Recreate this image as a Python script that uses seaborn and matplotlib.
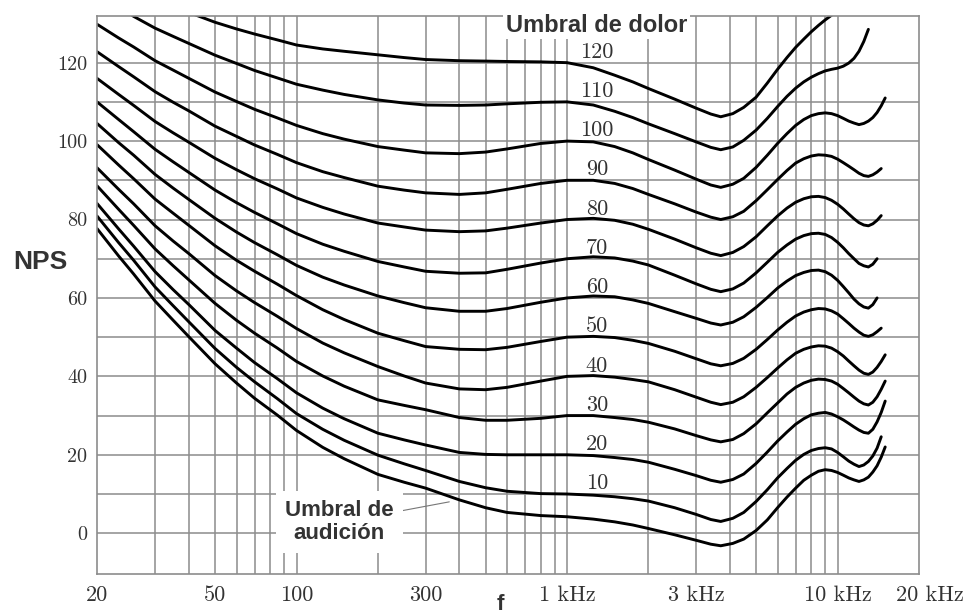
import numpy as np
import pandas as pd
import matplotlib
matplotlib.use("Agg")
import matplotlib.pyplot as plt
import seaborn as sns
from matplotlib.ticker import FixedLocator, FixedFormatter, NullFormatter
from matplotlib.transforms import ScaledTranslation

n = np.nan

# Frequencies (Hz) at which every equal-loudness contour is sampled
FREQ_HZ = [18.3, 22, 25, 30, 35, 40, 50, 60, 70, 85, 100, 125, 150, 200, 250, 300,
           400, 500, 600, 800, 1000, 1250, 1500, 1750, 2000,
           2500, 3000, 3400, 3700, 4100, 4500, 5000, 5500, 6000, 6500, 7000, 7500,
           8000, 8500, 9000, 9500, 10000, 10500, 11000, 11500, 12000, 12500, 13000,
           13500, 14000, 14500, 15000]

# Sound pressure level (dB) of each contour at FREQ_HZ
UMBRAL = [77.7, 70.7, 66.1, 59.2, 54.3, 50.1, 43.2, 38.3, 34.4, 30.1, 26.2, 21.9, 19.0, 15.0, 13.0, 11.5,
          8.5, 6.5, 5.3, 4.5, 4.2, 3.6, 2.9, 2.1, 1.2,
          -0.4, -1.8, -2.8, -3.2, -2.6, -1.5, 0.7, 3.4, 6.5, 9.2, 11.5, 13.5, 14.8, 15.8, 16.2,
          16.0, 15.5, 14.8, 14.1, 13.6, 13.2, 13.6, 14.3, 15.6, 17.2, 19.4, 22.0]
P10 = [80.9, 74.1, 69.6, 62.8, 58.0, 53.9, 47.1, 42.3, 38.6, 34.3, 30.5, 26.5, 23.7, 19.9, 17.7, 16.0,
       13.2, 11.6, 10.7, 10.1, 10.0, 9.7, 9.3, 8.8, 8.2,
       6.5, 4.8, 3.5, 3.0, 3.8, 5.3, 8.1, 11.1, 14.1, 16.5, 18.6, 20.1, 21.1, 21.6, 21.8,
       21.5, 20.6, 19.5, 18.4, 17.6, 17.0, 17.4, 18.3, 19.7, 21.7, 24.6, n]
P20 = [84.1, 77.6, 73.2, 66.7, 62.1, 58.3, 51.7, 47.2, 43.5, 39.4, 35.8, 31.9, 29.2, 25.5, 23.8, 22.5,
       20.6, 20.1, 20.0, 20.0, 20.0, 19.8, 19.3, 18.8, 18.1,
       16.3, 14.7, 13.5, 13.0, 13.7, 15.1, 17.8, 20.7, 23.5, 25.8, 27.8, 29.2, 30.2, 30.6, 30.8,
       30.4, 29.7, 28.9, 28.0, 27.1, 26.3, 25.7, 25.5, 26.5, 28.4, 30.8, 33.7]
P30 = [88.6, 82.6, 78.5, 72.5, 68.2, 64.6, 58.6, 54.3, 51.0, 47.2, 43.8, 40.1, 37.5, 34.0, 32.6, 31.5,
       29.5, 28.8, 28.8, 29.3, 30.0, 30.0, 29.5, 29.0, 28.3,
       26.6, 24.9, 23.8, 23.3, 23.9, 25.4, 27.9, 30.7, 33.2, 35.5, 37.2, 38.3, 39.0, 39.3, 39.2,
       38.8, 38.0, 36.9, 35.8, 34.7, 33.7, 33.0, 32.7, 33.4, 34.8, 36.7, 38.8]
P40 = [93.2, 87.7, 84.0, 78.4, 74.5, 71.3, 65.7, 61.8, 58.8, 55.3, 52.2, 48.5, 46.0, 42.5, 40.1, 38.3,
       36.8, 36.6, 37.2, 38.8, 40.0, 40.2, 39.8, 39.2, 38.6,
       36.6, 34.7, 33.4, 32.8, 33.4, 34.8, 37.2, 39.7, 42.1, 44.2, 45.9, 46.9, 47.5, 47.8, 47.7,
       47.2, 46.3, 45.2, 43.9, 42.7, 41.6, 40.8, 40.5, 41.1, 42.3, 43.8, 45.5]
P50 = [99.1, 93.9, 90.4, 85.2, 81.6, 78.5, 73.3, 69.6, 66.8, 63.5, 60.6, 57.0, 54.5, 51.0, 49.1, 47.6,
       46.9, 46.8, 47.4, 48.9, 50.0, 50.2, 49.9, 49.2, 48.4,
       46.4, 44.5, 43.2, 42.7, 43.3, 44.6, 46.9, 49.4, 51.8, 53.8, 55.4, 56.4, 57.0, 57.3, 57.2,
       56.7, 55.9, 54.7, 53.5, 52.3, 51.3, 50.5, 50.2, 50.6, 51.4, 52.3, n]
P60 = [104.5, 99.6, 96.4, 91.5, 88.0, 85.1, 80.3, 76.8, 74.1, 71.0, 68.3, 65.3, 63.3, 60.5, 58.8, 57.5,
       56.6, 56.6, 57.3, 58.9, 60.0, 60.5, 60.3, 59.5, 58.6,
       56.5, 54.8, 53.6, 53.1, 53.8, 55.2, 57.6, 60.1, 62.5, 64.3, 65.7, 66.5, 67.0, 67.1, 66.7,
       65.8, 64.5, 62.9, 61.3, 59.7, 58.5, 57.7, 57.4, 58.3, 60.0, n, n]
P70 = [110.0, 105.5, 102.4, 97.9, 94.7, 92.0, 87.5, 84.3, 81.8, 78.9, 76.4, 73.7, 71.9, 69.3, 67.9, 66.8,
       66.3, 66.4, 67.3, 68.9, 70.0, 70.5, 70.2, 69.4, 68.4,
       65.8, 63.6, 62.2, 61.6, 62.3, 63.8, 66.4, 69.1, 71.6, 73.5, 75.0, 75.9, 76.4, 76.5, 76.2,
       75.4, 74.2, 72.8, 71.3, 70.0, 68.8, 68.2, 67.9, 68.6, 70.0, n, n]
P80 = [116.0, 111.9, 109.1, 105.0, 102.1, 99.7, 95.6, 92.7, 90.4, 87.8, 85.5, 83.1, 81.4, 79.1, 78.1, 77.3,
       76.9, 77.1, 77.8, 79.1, 80.0, 80.3, 79.8, 78.8, 77.5,
       75.0, 72.8, 71.4, 70.8, 71.6, 73.1, 75.6, 78.4, 80.9, 82.9, 84.4, 85.3, 85.8, 85.9, 85.6,
       84.9, 83.9, 82.7, 81.4, 80.2, 79.2, 78.6, 78.4, 78.9, 79.8, 81.0, n]
P90 = [122.8, 119.0, 116.4, 112.6, 109.9, 107.7, 103.8, 101.2, 99.0, 96.6, 94.5, 92.2, 90.7, 88.5, 87.5, 86.8,
       86.4, 86.8, 87.7, 89.2, 90.0, 90.0, 89.2, 87.9, 86.4,
       84.0, 81.9, 80.6, 80.0, 80.7, 82.1, 84.8, 87.6, 90.2, 92.5, 94.4, 95.5, 96.2, 96.5, 96.4,
       96.1, 95.4, 94.5, 93.6, 92.7, 91.8, 91.2, 91.0, 91.4, 92.1, 93.0, n]
P100 = [129.8, 126.3, 124.0, 120.5, 118.1, 116.0, 112.5, 110.1, 108.1, 105.9, 104.0, 101.9, 100.5, 98.6, 97.7, 97.0,
        96.8, 97.2, 98.0, 99.4, 100.0, 99.8, 98.6, 97.0, 95.3,
        92.6, 90.3, 88.8, 88.2, 89.0, 90.5, 93.3, 96.4, 99.4, 101.9, 104.0, 105.5, 106.5, 107.0, 107.2,
        107.0, 106.5, 105.8, 105.1, 104.6, 104.2, 104.5, 105.1, 106.0, 107.3, 109.0, 111.0]
P110 = [n, 134.5, 131.8, 128.8, 126.7, 124.9, 121.9, 119.8, 118.0, 116.1, 114.5, 113.0, 111.9, 110.5, 109.7, 109.2,
        109.1, 109.2, 109.5, 109.9, 110.0, 109.2, 107.6, 106.0, 104.4,
        101.9, 99.8, 98.4, 97.8, 98.5, 100.2, 102.8, 105.8, 108.8, 111.4, 113.5, 115.1, 116.3, 117.2, 117.9,
        118.3, 118.6, 119.1, 119.9, 121.1, 122.9, 125.4, 128.5, n, n, n, n]
P120 = [n, n, n, n, n, 132.8, 130.3, 128.6, 127.3, 125.8, 124.5, 123.5, 122.9, 122.0, 121.3, 120.8,
        120.5, 120.4, 120.3, 120.2, 120.0, 118.7, 116.8, 115.1, 113.4,
        110.7, 108.4, 106.9, 106.2, 107.0, 108.6, 111.2, 114.8, 118.3, 121.3, 123.9, 126.0, 127.9, 129.5, 130.9,
        132.1, 133.2, n, n, n, n, n, n, n, n, n, n]

CONTOURS = [UMBRAL, P10, P20, P30, P40, P50, P60, P70, P80, P90, P100, P110, P120]
CONTOUR_NAMES = ["umbral", "10", "20", "30", "40", "50", "60", "70", "80", "90",
                 "100", "110", "120"]
PHON_LEVELS = [10, 20, 30, 40, 50, 60, 70, 80, 90, 100, 110, 120]

XTICKS = [20, 50, 100, 300, 1000, 3000, 10000, 20000]
XTICK_LABELS = ["20", "50", "100", "300", "1 kHz", "3 kHz", "10 kHz", "20 kHz"]
X_GRID = [30, 40, 50, 60, 70, 80, 90, 100, 200, 300, 400, 500, 600, 700, 800, 900,
          1000, 2000, 3000, 4000, 5000, 6000, 7000, 8000, 9000, 10000]
YTICKS = [0, 20, 40, 60, 80, 100, 120]
Y_GRID = list(range(0, 121, 10))

# long-form table for seaborn
frames = []
for name, spl in zip(CONTOUR_NAMES, CONTOURS):
    frames.append(pd.DataFrame({"f": FREQ_HZ, "spl": spl, "curva": name}))
df = pd.concat(frames, ignore_index=True).dropna()

sns.set_theme(style="white")
plt.rcParams["font.family"] = ["cmr10", "DejaVu Serif"]
plt.rcParams["axes.unicode_minus"] = False

SANS = ["Liberation Sans", "DejaVu Sans"]
GRID_C = "#8c8c8c"
TEXT_C = "#333333"

fig = plt.figure(figsize=(9.7, 6.15), dpi=100)
ax = fig.add_axes([97 / 970, 41 / 615, 822 / 970, 558 / 615])

sns.lineplot(data=df, x="f", y="spl", hue="curva", hue_order=CONTOUR_NAMES,
             palette=["black"] * len(CONTOUR_NAMES), estimator=None, sort=False,
             legend=False, linewidth=2.1, ax=ax)

ax.set_xscale("log")
ax.set_xlim(18.3, 20000)
ax.set_ylim(-10.4, 131.9)

ax.xaxis.remove_overlapping_locs = False
ax.yaxis.remove_overlapping_locs = False
ax.xaxis.set_major_locator(FixedLocator(XTICKS))
ax.xaxis.set_major_formatter(FixedFormatter(XTICK_LABELS))
ax.xaxis.set_minor_locator(FixedLocator(X_GRID))
ax.xaxis.set_minor_formatter(NullFormatter())
ax.yaxis.set_major_locator(FixedLocator(YTICKS))
ax.yaxis.set_major_formatter(FixedFormatter([str(v) for v in YTICKS]))
ax.yaxis.set_minor_locator(FixedLocator(Y_GRID))
ax.yaxis.set_minor_formatter(NullFormatter())

ax.grid(False, which="major")
ax.grid(True, which="minor", color=GRID_C, linewidth=1.1)
ax.set_axisbelow(True)
ax.tick_params(which="both", length=0)
ax.tick_params(axis="x", labelsize=16, pad=8, labelcolor=TEXT_C)
ax.tick_params(axis="y", labelsize=14.5, pad=7, labelcolor=TEXT_C)
for sp in ax.spines.values():
    sp.set_visible(True)
    sp.set_color(GRID_C)
    sp.set_linewidth(1.2)

# the two end labels sit slightly outside their ticks
major_ticks = ax.xaxis.get_major_ticks()
for idx, dx in ((XTICK_LABELS.index("20"), -10), (XTICK_LABELS.index("20 kHz"), 11)):
    lab = major_ticks[idx].label1
    lab.set_transform(lab.get_transform()
                      + ScaledTranslation(dx / 100, 0, fig.dpi_scale_trans))

ax.set_xlabel("f", family=SANS, fontweight="bold", fontsize=16, color=TEXT_C, va="top")
ax.xaxis.set_label_coords((500 - 97) / 822, (574 - 594) / 558)
ax.set_ylabel("NPS", family=SANS, fontweight="bold", fontsize=19, color=TEXT_C,
              rotation=0, ha="center", va="center")
ax.yaxis.set_label_coords((40 - 97) / 822, (574 - 262) / 558)

# loudness level of each contour, written just above it near 1.3 kHz
for lvl in PHON_LEVELS:
    ax.text(1290, lvl + 2.7, str(lvl), ha="center", va="center", fontsize=16,
            color=TEXT_C)

ax.text(1290, 129.6, "Umbral de dolor", ha="center", va="center", family=SANS,
        fontweight="bold", fontsize=17, color=TEXT_C,
        bbox=dict(facecolor="white", edgecolor="none", pad=2))

ax.annotate("Umbral de\naudición", xy=(367, 8), xytext=(144, 2.9),
            ha="center", va="center", multialignment="center", family=SANS,
            fontweight="bold", fontsize=16, color=TEXT_C, linespacing=1.1,
            bbox=dict(boxstyle="square,pad=0.4", facecolor="white", edgecolor="none"),
            arrowprops=dict(arrowstyle="-", color="#777777", lw=0.8,
                            shrinkA=0, shrinkB=0, relpos=(1.0, 0.72)))

fig.savefig("out.png", dpi=100)
